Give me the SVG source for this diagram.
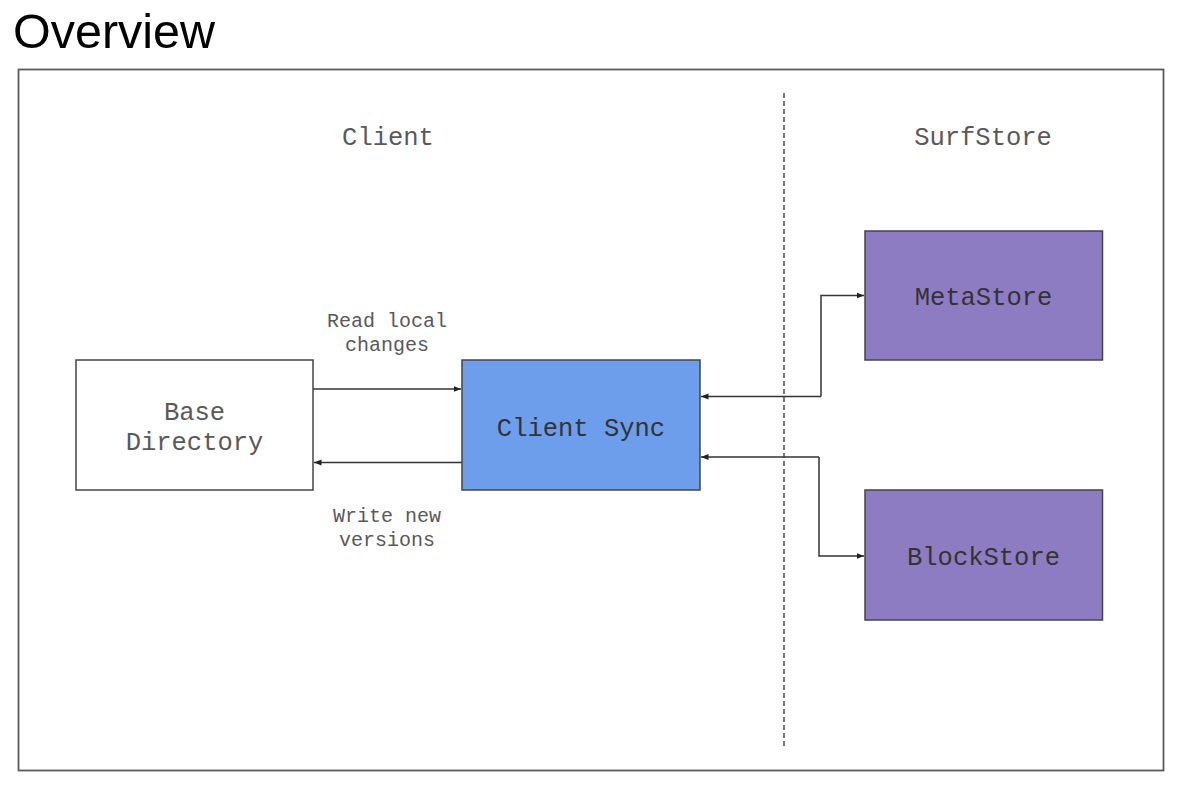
<svg xmlns="http://www.w3.org/2000/svg" width="1183" height="790" viewBox="0 0 1183 790">
<style>
.title{font-family:"Liberation Sans",Arial,sans-serif;font-size:48.5px;fill:#000}
.lbl{font-family:"Liberation Mono","Courier New",monospace;font-size:25.5px;fill:#595959;text-anchor:middle}
.edge{font-family:"Liberation Mono","Courier New",monospace;font-size:20px;fill:#595959;text-anchor:middle}
.ntext{font-family:"Liberation Mono","Courier New",monospace;font-size:25.5px;text-anchor:middle}
.box{stroke:#444;stroke-width:1.5}
.conn{fill:none;stroke:#333;stroke-width:1.5}
</style>
<defs>
<marker id="ah" viewBox="0 0 10 10" refX="10" refY="5" markerWidth="5" markerHeight="5" orient="auto" markerUnits="strokeWidth">
<path d="M0,1 L10,5 L0,9 z" fill="#222"/>
</marker>
</defs>
<rect width="1183" height="790" fill="#fff"/>
<text class="title" x="13" y="47.5">Overview</text>
<rect x="18.5" y="69.5" width="1145" height="701" fill="#fff" stroke="#5a5a5a" stroke-width="1.8"/>
<line x1="784" y1="93" x2="784" y2="746" stroke="#333" stroke-width="1.3" stroke-dasharray="5,3"/>
<text class="lbl" x="388" y="145">Client</text>
<text class="lbl" x="983" y="145">SurfStore</text>
<g id="connectors">
<line class="conn" x1="313" y1="389" x2="461" y2="389" marker-end="url(#ah)"/>
<line class="conn" x1="462" y1="462.5" x2="314" y2="462.5" marker-end="url(#ah)"/>
<polyline class="conn" points="821,396.5 701,396.5" marker-end="url(#ah)"/>
<polyline class="conn" points="821,396.5 821,295.5 864,295.5" marker-end="url(#ah)"/>
<polyline class="conn" points="819,457 701,457" marker-end="url(#ah)"/>
<polyline class="conn" points="819,457 819,556 864,556" marker-end="url(#ah)"/>
<text class="edge" x="387" y="327">Read local</text>
<text class="edge" x="387" y="351">changes</text>
<text class="edge" x="387" y="522">Write new</text>
<text class="edge" x="387" y="546">versions</text>
</g>
<g id="base-directory">
<rect class="box" x="76" y="360" width="237" height="130" fill="#fff"/>
<text class="ntext" x="194.5" y="420" fill="#595959">Base</text>
<text class="ntext" x="194.5" y="450" fill="#595959">Directory</text>
</g>
<g id="client-sync">
<rect class="box" x="462" y="360" width="238" height="130" fill="#6d9eeb"/>
<text class="ntext" x="581" y="436" fill="#333">Client Sync</text>
</g>
<g id="metastore">
<rect class="box" x="865" y="231" width="237.5" height="129" fill="#8e7cc3"/>
<text class="ntext" x="983.5" y="305" fill="#333">MetaStore</text>
</g>
<g id="blockstore">
<rect class="box" x="865" y="490" width="237.5" height="130" fill="#8e7cc3"/>
<text class="ntext" x="983.5" y="565" fill="#333">BlockStore</text>
</g>
</svg>
